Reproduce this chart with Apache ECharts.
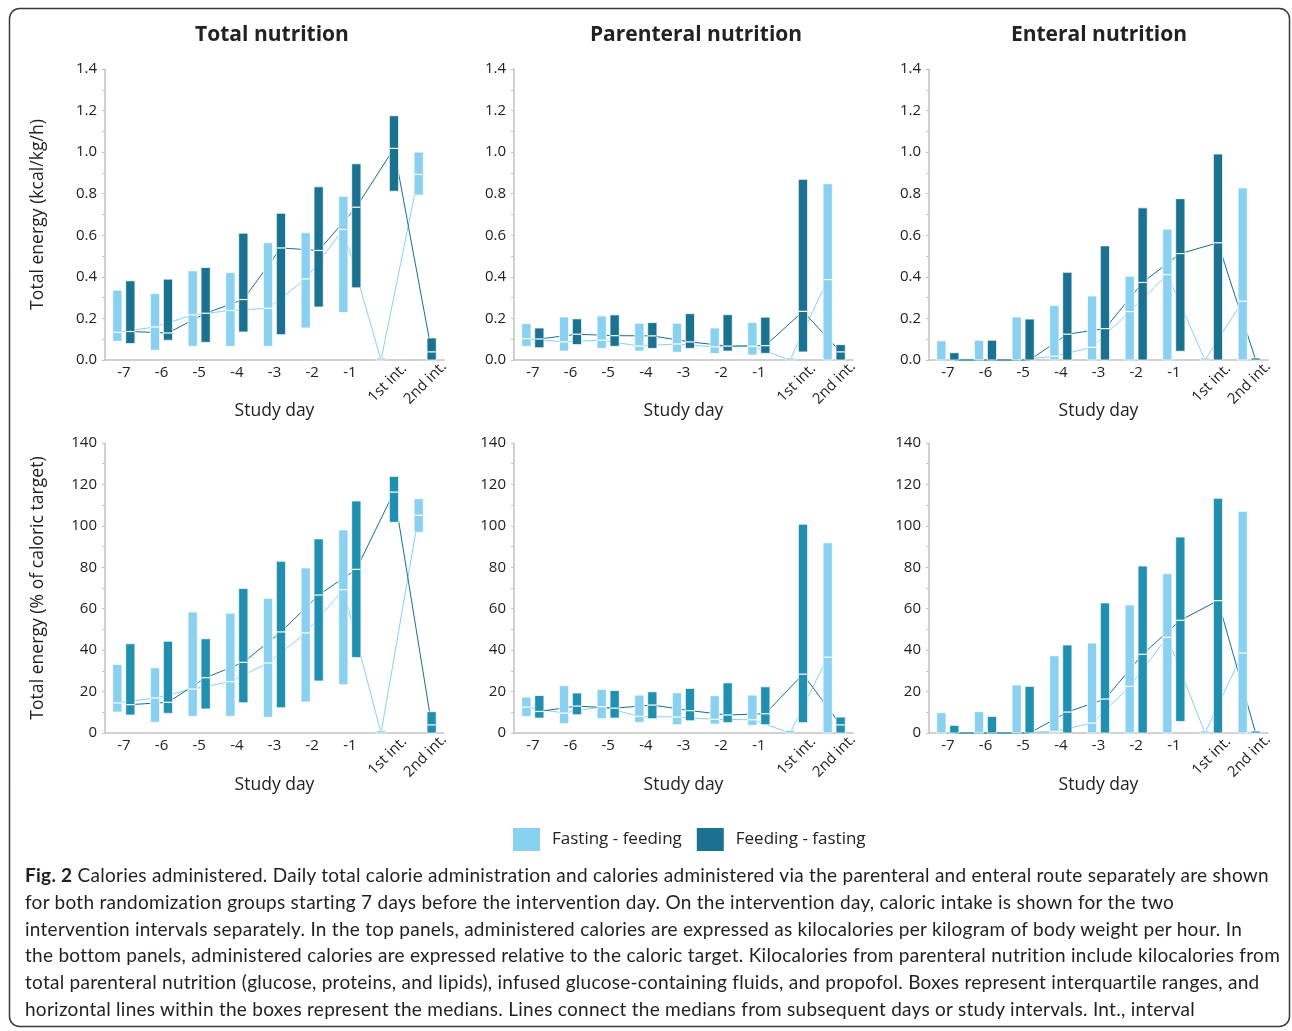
<!DOCTYPE html>
<html>
<head>
<meta charset="utf-8">
<script src="https://cdn.jsdelivr.net/npm/echarts@6/dist/echarts.min.js"></script>
<style>
  html, body { margin: 0; padding: 0; background: #fff; }
  #wrap { position: relative; width: 1292px; height: 1031px; }
  #chart { position: absolute; left: 0; top: 0; width: 1292px; height: 1031px; }
  #cap { position: absolute; left: 25px; top: 862px; font-family: Lato, "Open Sans", sans-serif; font-size: 19px; letter-spacing: 0.27px; line-height: 26.8px; color: #231f20; white-space: nowrap; }
</style>
</head>
<body>
<div id="wrap">
  <div id="chart"></div>
  <div id="cap"><b>Fig. 2</b> Calories administered. Daily total calorie administration and calories administered via the parenteral and enteral route separately are shown<br>for both randomization groups starting 7 days before the intervention day. On the intervention day, caloric intake is shown for the two<br>intervention intervals separately. In the top panels, administered calories are expressed as kilocalories per kilogram of body weight per hour. In<br>the bottom panels, administered calories are expressed relative to the caloric target. Kilocalories from parenteral nutrition include kilocalories from<br>total parenteral nutrition (glucose, proteins, and lipids), infused glucose-containing fluids, and propofol. Boxes represent interquartile ranges, and<br>horizontal lines within the boxes represent the medians. Lines connect the medians from subsequent days or study intervals. Int., interval</div>
</div>
<script>
// ---------- categories & labels ----------
const categories = ['-7', '-6', '-5', '-4', '-3', '-2', '-1', '1st int.', '2nd int.'];
const rotatedLabels = ['1st int.', '2nd int.'];
const groupNames = ['Fasting - feeding', 'Feeding - fasting'];
const panelTitles = ['Total nutrition', 'Parenteral nutrition', 'Enteral nutrition'];
const xAxisTitle = 'Study day';
const yAxisTitles = ['Total energy (kcal/kg/h)', 'Total energy (% of caloric target)'];
const yTopTicks = [0, 1.4, 0.2];
const yBottomTicks = [0, 140, 20];

// ---------- Total nutrition, kcal/kg/h ----------
const totKcalFastQ1  = [0.090, 0.047, 0.066, 0.066, 0.066, 0.154, 0.228, 0, 0.793];
const totKcalFastMed = [0.133, 0.159, 0.217, 0.238, 0.249, 0.390, 0.628, 0, 0.893];
const totKcalFastQ3  = [0.336, 0.320, 0.429, 0.421, 0.564, 0.612, 0.788, 0.008, 1.000];
const totKcalFeedQ1  = [0.079, 0.095, 0.085, 0.135, 0.122, 0.255, 0.347, 0.812, 0];
const totKcalFeedMed = [0.137, 0.130, 0.225, 0.291, 0.539, 0.527, 0.735, 1.018, 0.039];
const totKcalFeedQ3  = [0.381, 0.389, 0.445, 0.610, 0.706, 0.833, 0.944, 1.175, 0.106];

// ---------- Parenteral nutrition, kcal/kg/h ----------
const parKcalFastQ1  = [0.066, 0.043, 0.056, 0.043, 0.037, 0.031, 0.024, 0, 0];
const parKcalFastMed = [0.103, 0.087, 0.095, 0.067, 0.077, 0.063, 0.066, 0, 0.387];
const parKcalFastQ3  = [0.175, 0.207, 0.212, 0.177, 0.177, 0.154, 0.180, 0.008, 0.848];
const parKcalFeedQ1  = [0.059, 0.074, 0.066, 0.056, 0.056, 0.043, 0.032, 0.039, 0];
const parKcalFeedMed = [0.101, 0.124, 0.117, 0.116, 0.087, 0.067, 0.069, 0.234, 0.039];
const parKcalFeedQ3  = [0.154, 0.198, 0.217, 0.180, 0.223, 0.218, 0.206, 0.869, 0.074];

// ---------- Enteral nutrition, kcal/kg/h ----------
const entKcalFastQ1  = [0, 0, 0, 0, 0, 0, 0, 0, 0];
const entKcalFastMed = [0, 0, 0, 0.018, 0.061, 0.233, 0.411, 0, 0.283];
const entKcalFastQ3  = [0.092, 0.095, 0.207, 0.262, 0.308, 0.403, 0.629, 0.006, 0.828];
const entKcalFeedQ1  = [0, 0, 0, 0, 0, 0, 0.042, 0, 0];
const entKcalFeedMed = [0, 0, 0, 0.124, 0.151, 0.373, 0.512, 0.564, 0];
const entKcalFeedQ3  = [0.035, 0.095, 0.197, 0.422, 0.549, 0.732, 0.776, 0.991, 0.006];

// ---------- Total nutrition, % of caloric target ----------
const totPctFastQ1  = [10.1, 5.2, 8.1, 8.1, 7.6, 15.0, 23.3, 0, 96.9];
const totPctFastMed = [14.5, 16.9, 21.2, 24.8, 33.8, 48.3, 69.2, 0, 105.1];
const totPctFastQ3  = [33.1, 31.5, 58.4, 57.8, 65.0, 79.7, 98.0, 1.1, 113.1];
const totPctFeedQ1  = [8.7, 9.5, 11.6, 14.6, 12.2, 25.1, 36.4, 101.7, 0];
const totPctFeedMed = [13.7, 14.8, 26.7, 34.1, 48.8, 66.6, 79.0, 116.3, 3.9];
const totPctFeedQ3  = [43.1, 44.3, 45.5, 69.8, 82.9, 93.7, 112.0, 123.9, 10.3];

// ---------- Parenteral nutrition, % of caloric target ----------
const parPctFastQ1  = [8.0, 4.5, 6.9, 5.1, 4.0, 4.3, 3.7, 0, 0];
const parPctFastMed = [12.5, 9.6, 12.7, 8.0, 7.7, 6.6, 6.4, 0, 36.6];
const parPctFastQ3  = [17.3, 22.8, 21.0, 18.3, 19.4, 18.0, 18.3, 1.3, 91.8];
const parPctFeedQ1  = [7.2, 8.8, 7.2, 6.9, 5.9, 5.0, 4.0, 5.0, 0];
const parPctFeedMed = [10.4, 13.0, 12.0, 13.5, 10.8, 8.7, 9.3, 28.4, 3.9];
const parPctFeedQ3  = [18.1, 19.3, 20.5, 19.9, 21.5, 24.2, 22.3, 100.8, 7.7];

// ---------- Enteral nutrition, % of caloric target ----------
const entPctFastQ1  = [0, 0, 0, 0, 0, 0, 0, 0, 0];
const entPctFastMed = [0, 0, 0, 0.8, 4.8, 22.5, 46.2, 0, 38.6];
const entPctFastQ3  = [9.8, 10.3, 23.2, 37.3, 43.4, 61.8, 76.9, 0.5, 107.0];
const entPctFeedQ1  = [0, 0, 0, 0, 0, 0, 5.5, 0, 0];
const entPctFeedMed = [0, 0, 0, 10.1, 16.4, 38.0, 54.4, 63.9, 0];
const entPctFeedQ3  = [3.7, 8.0, 22.5, 42.5, 62.8, 80.6, 94.6, 113.3, 0.5];

// ---------- styling ----------
const LIGHT = '#89d0f1';
const DARK_TOP = '#1a7190';
const DARK_BOTTOM = '#2190b0';
const DARK_LINE = '#1a6f8c';
const AXIS_GRAY = '#c2c2c2';
const TXT = '#222222';
const FONT = '"Open Sans", "Noto Sans", sans-serif';

const panels = [
  { row: 0, col: 0, fast: [totKcalFastQ1, totKcalFastMed, totKcalFastQ3], feed: [totKcalFeedQ1, totKcalFeedMed, totKcalFeedQ3] },
  { row: 0, col: 1, fast: [parKcalFastQ1, parKcalFastMed, parKcalFastQ3], feed: [parKcalFeedQ1, parKcalFeedMed, parKcalFeedQ3] },
  { row: 0, col: 2, fast: [entKcalFastQ1, entKcalFastMed, entKcalFastQ3], feed: [entKcalFeedQ1, entKcalFeedMed, entKcalFeedQ3] },
  { row: 1, col: 0, fast: [totPctFastQ1, totPctFastMed, totPctFastQ3], feed: [totPctFeedQ1, totPctFeedMed, totPctFeedQ3] },
  { row: 1, col: 1, fast: [parPctFastQ1, parPctFastMed, parPctFastQ3], feed: [parPctFeedQ1, parPctFeedMed, parPctFeedQ3] },
  { row: 1, col: 2, fast: [entPctFastQ1, entPctFastMed, entPctFastQ3], feed: [entPctFeedQ1, entPctFeedMed, entPctFeedQ3] }
];

const gridLefts = [105, 514, 929];
const gridTops = [69, 443];
const gridW = 339;
const gridH = [291, 290];

const OFF = 0.172;   // box offset as fraction of band width
const BOXW = 0.245;  // box width as fraction of band width

function boxRender(side, color) {
  return function (params, api) {
    const i = api.value(0);
    const q1 = api.value(1), med = api.value(2), q3 = api.value(3);
    const band = api.size([1, 0])[0];
    const off = side * band * OFF;
    const w = band * BOXW;
    const pt = api.coord([i, q3]);
    const pb = api.coord([i, q1]);
    const pm = api.coord([i, med]);
    const x = pt[0] + off - w / 2;
    let y = pt[1];
    let h = pb[1] - pt[1];
    if (h < 2) { y = pb[1] - 2; h = 2; }
    const children = [{
      type: 'rect',
      shape: { x: x, y: y, width: w, height: h },
      style: { fill: color, stroke: 'rgba(255,255,255,0.75)', lineWidth: 1 }
    }];
    if (med > q1 && med < q3) {
      children.push({
        type: 'line',
        shape: { x1: x + 0.5, y1: pm[1], x2: x + w - 0.5, y2: pm[1] },
        style: { stroke: '#ffffff', lineWidth: 1.2 }
      });
    }
    return { type: 'group', children: children };
  };
}

function lineRender(side, color) {
  return function (params, api) {
    const i = api.value(0);
    if (i === 0) return { type: 'group', children: [] };
    const band = api.size([1, 0])[0];
    const off = side * band * OFF;
    const a = api.coord([i - 1, api.value(2)]);
    const b = api.coord([i, api.value(1)]);
    return {
      type: 'line',
      shape: { x1: a[0] + off, y1: a[1], x2: b[0] + off, y2: b[1] },
      style: { stroke: color, lineWidth: 1 }
    };
  };
}

const grid = [], xAxis = [], yAxis = [], series = [], title = [];

panelTitles.forEach(function (t, c) {
  title.push({
    text: t,
    left: [267, 691, 1094][c],
    top: 20,
    textAlign: 'center',
    textStyle: { fontFamily: FONT, fontSize: 21, fontWeight: 'bold', color: TXT }
  });
});

panels.forEach(function (p, g) {
  const ticks = p.row === 0 ? yTopTicks : yBottomTicks;
  grid.push({ left: gridLefts[p.col], top: gridTops[p.row], width: gridW, height: gridH[p.row] });
  xAxis.push({
    type: 'category', gridIndex: g, data: categories, position: 'bottom',
    axisLine: { lineStyle: { color: AXIS_GRAY, width: 1.5 } },
    axisTick: { show: false },
    axisLabel: {
      interval: 0, margin: 5, fontFamily: FONT, fontSize: 15, color: TXT,
      formatter: function (v) { return rotatedLabels.indexOf(v) >= 0 ? '' : v; }
    },
    name: xAxisTitle, nameLocation: 'middle', nameGap: p.row === 0 ? 42 : 43,
    nameTextStyle: { fontFamily: FONT, fontSize: 17.5, color: TXT }
  });
  xAxis.push({
    type: 'category', gridIndex: g, data: categories, position: 'bottom',
    axisLine: { show: false }, axisTick: { show: false },
    axisLabel: {
      interval: 0, rotate: 45, align: 'center', verticalAlign: 'middle', margin: 23,
      fontFamily: FONT, fontSize: 15, color: TXT,
      formatter: function (v) { return rotatedLabels.indexOf(v) >= 0 ? v : ''; }
    }
  });
  const y = {
    type: 'value', gridIndex: g, min: ticks[0], max: ticks[1], interval: ticks[2],
    axisLine: { show: true, lineStyle: { color: AXIS_GRAY, width: 1.5 } },
    axisTick: { show: true, length: 3, lineStyle: { color: AXIS_GRAY } },
    minorTick: { show: true, splitNumber: 2, length: 3, lineStyle: { color: AXIS_GRAY } },
    splitLine: { show: false },
    axisLabel: {
      margin: 8, fontFamily: FONT, fontSize: 15, color: TXT,
      formatter: function (v) { return p.row === 0 ? v.toFixed(1) : String(v); }
    }
  };
  if (p.col === 0) {
    y.name = yAxisTitles[p.row];
    y.nameLocation = 'middle';
    y.nameGap = 58;
    y.nameTextStyle = { fontFamily: FONT, fontSize: 17.6, color: TXT };
  }
  yAxis.push(y);

  const darkBox = p.row === 0 ? DARK_TOP : DARK_BOTTOM;
  [[p.fast, -1, LIGHT, LIGHT, groupNames[0]], [p.feed, 1, darkBox, DARK_LINE, groupNames[1]]].forEach(function (s) {
    const arr = s[0], side = s[1], boxColor = s[2], lineColor = s[3], name = s[4];
    const boxData = categories.map(function (_, i) { return [i, arr[0][i], arr[1][i], arr[2][i]]; });
    const lineData = categories.map(function (_, i) { return [i, arr[1][i], i > 0 ? arr[1][i - 1] : arr[1][i]]; });
    series.push({
      type: 'custom', name: name + ' median line', xAxisIndex: 2 * g, yAxisIndex: g, z: 1,
      renderItem: lineRender(side, lineColor), data: lineData, silent: true,
      encode: { x: 0, y: [1, 2] }
    });
    series.push({
      type: 'custom', name: name, xAxisIndex: 2 * g, yAxisIndex: g, z: 2,
      itemStyle: { color: boxColor },
      renderItem: boxRender(side, boxColor), data: boxData,
      encode: { x: 0, y: [1, 2, 3] }
    });
  });
});

const chart = echarts.init(document.getElementById('chart'), null, { renderer: 'canvas' });
chart.setOption({
  backgroundColor: '#ffffff',
  animation: false,
  title: title,
  grid: grid,
  xAxis: xAxis,
  yAxis: yAxis,
  series: series,
  legend: {
    left: 513, top: 828, padding: 0, itemWidth: 27, itemHeight: 23, itemGap: 15,
    selectedMode: false,
    textStyle: { fontFamily: FONT, fontSize: 17, color: TXT, padding: [3, 0, 0, 7] },
    data: [
      { name: groupNames[0], icon: 'rect', itemStyle: { color: LIGHT } },
      { name: groupNames[1], icon: 'rect', itemStyle: { color: DARK_TOP } }
    ]
  },
  graphic: [{
    type: 'rect', silent: true,
    shape: { x: 9.5, y: 8.5, width: 1280, height: 1018, r: 10 },
    style: { fill: null, stroke: '#3a3a3a', lineWidth: 1.5 }
  }]
});
</script>
</body>
</html>
